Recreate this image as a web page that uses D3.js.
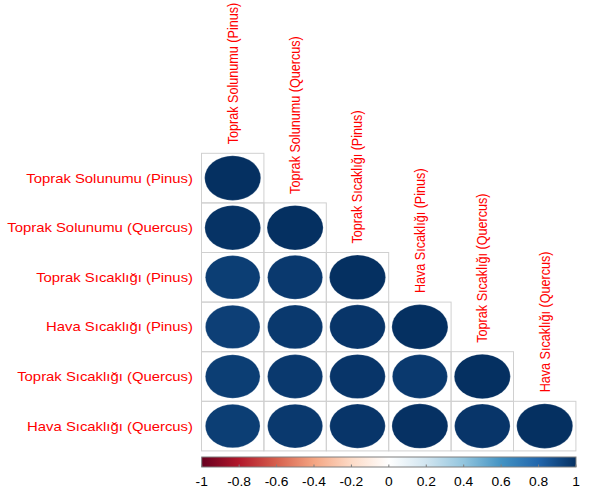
<!DOCTYPE html>
<html>
<head>
<meta charset="utf-8">
<script src="https://cdn.jsdelivr.net/npm/d3@7"></script>
<style>
  html, body { margin: 0; padding: 0; background: #ffffff; }
  svg { display: block; }
  text { font-family: "Liberation Sans", Arial, sans-serif; }
</style>
</head>
<body>
<svg id="chart" width="592" height="488"></svg>
<script>
// Variables of the correlation matrix (rows and columns share the same order)
const variables = [
  "Toprak Solunumu (Pinus)",
  "Toprak Solunumu (Quercus)",
  "Toprak Sıcaklığı (Pinus)",
  "Hava Sıcaklığı (Pinus)",
  "Toprak Sıcaklığı (Quercus)",
  "Hava Sıcaklığı (Quercus)"
];

// Lower-triangle correlation coefficients, one array per row
const row0 = [1];
const row1 = [0.99, 1];
const row2 = [0.95, 0.965, 1];
const row3 = [0.945, 0.965, 0.98, 1];
const row4 = [0.95, 0.965, 0.98, 0.965, 1];
const row5 = [0.95, 0.965, 0.98, 0.995, 0.98, 1];
const correlations = [row0, row1, row2, row3, row4, row5];

// Colour legend ticks
const legendTicks = [-1, -0.8, -0.6, -0.4, -0.2, 0, 0.2, 0.4, 0.6, 0.8, 1];

// Diverging red-blue palette
const paletteColors = ["#67001F", "#B2182B", "#D6604D", "#F4A582", "#FDDBC7", "#FFFFFF",
                       "#D1E5F0", "#92C5DE", "#4393C3", "#2166AC", "#053061"];

const svg = d3.select("#chart");

const gridLeft = 201.5, gridTop = 153.3;
const cellW = 62.4, cellH = 49.6;
const n = variables.length;

const x = d3.scaleBand().domain(variables).range([gridLeft, gridLeft + n * cellW]).padding(0);
const y = d3.scaleBand().domain(variables).range([gridTop, gridTop + n * cellH]).padding(0);

const color = d3.scaleLinear()
  .domain(d3.range(paletteColors.length).map(i => -1 + 2 * i / (paletteColors.length - 1)))
  .range(paletteColors)
  .interpolate(d3.interpolateRgb);

const cells = [];
correlations.forEach((row, i) => {
  row.forEach((v, j) => cells.push({ row: variables[i], col: variables[j], value: v }));
});

// Cell frames
svg.append("g").selectAll("rect")
  .data(cells)
  .join("rect")
  .attr("x", d => x(d.col))
  .attr("y", d => y(d.row))
  .attr("width", x.bandwidth())
  .attr("height", y.bandwidth())
  .attr("fill", "none")
  .attr("stroke", "#d0d0d0")
  .attr("stroke-width", 1);

// Circles sized by sqrt(|r|)
svg.append("g").selectAll("ellipse")
  .data(cells)
  .join("ellipse")
  .attr("cx", d => x(d.col) + x.bandwidth() / 2)
  .attr("cy", d => y(d.row) + y.bandwidth() / 2)
  .attr("rx", d => 0.9 * Math.sqrt(Math.abs(d.value)) * x.bandwidth() / 2)
  .attr("ry", d => 0.9 * Math.sqrt(Math.abs(d.value)) * y.bandwidth() / 2)
  .attr("fill", d => color(d.value))
  .attr("stroke", "#ffffff")
  .attr("stroke-opacity", 0.35)
  .attr("stroke-width", 0.6);

// Row labels
svg.append("g").selectAll("text")
  .data(variables)
  .join("text")
  .attr("transform", d => `translate(193,${y(d) + y.bandwidth() / 2 + 4.5}) scale(1.18,1)`)
  .attr("text-anchor", "end")
  .attr("font-size", 12.6)
  .attr("fill", "#ff0000")
  .text(d => d);

// Column labels, rotated, above the diagonal cell of each column
svg.append("g").selectAll("text")
  .data(variables)
  .join("text")
  .attr("transform", d => `translate(${x(d) + x.bandwidth() / 2 + 4.8},${y(d) - 9}) rotate(-90) scale(0.87,1)`)
  .attr("text-anchor", "start")
  .attr("font-size", 14.5)
  .attr("fill", "#ff0000")
  .text(d => d);

// Colour legend
const legendLeft = 201.7, legendRight = 576, legendTop = 457, legendH = 10;
const lx = d3.scaleLinear().domain([-1, 1]).range([legendLeft, legendRight]);

const defs = svg.append("defs");
const grad = defs.append("linearGradient").attr("id", "legendGrad")
  .attr("x1", "0%").attr("x2", "100%").attr("y1", "0%").attr("y2", "0%");
grad.selectAll("stop")
  .data(paletteColors)
  .join("stop")
  .attr("offset", (d, i) => `${100 * i / (paletteColors.length - 1)}%`)
  .attr("stop-color", d => d);

svg.append("rect")
  .attr("x", legendLeft)
  .attr("y", legendTop)
  .attr("width", legendRight - legendLeft)
  .attr("height", legendH)
  .attr("fill", "url(#legendGrad)")
  .attr("stroke", "#7f7f7f")
  .attr("stroke-width", 1);

svg.append("g").selectAll("line")
  .data(legendTicks)
  .join("line")
  .attr("x1", d => lx(d)).attr("x2", d => lx(d))
  .attr("y1", legendTop + legendH - 2.5).attr("y2", legendTop + legendH)
  .attr("stroke", "#7f7f7f")
  .attr("stroke-width", 1);

// Tick labels with a plain hyphen for negatives
svg.append("g").selectAll("text")
  .data(legendTicks)
  .join("text")
  .attr("transform", d => `translate(${lx(d)},486) scale(1.15,1)`)
  .attr("text-anchor", "middle")
  .attr("font-size", 12)
  .attr("fill", "#000000")
  .text(d => String(d));
</script>
</body>
</html>
